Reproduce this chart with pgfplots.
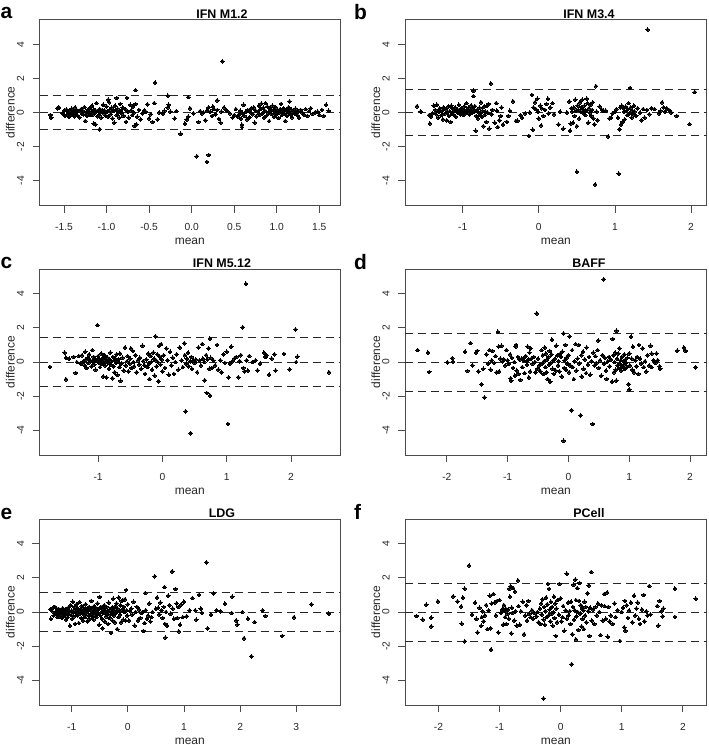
\documentclass[border=0pt]{standalone}
\usepackage{fontspec}
\setmainfont{Liberation Sans}
\usepackage{pgfplots}
\pgfplotsset{compat=1.18}
\usepackage{pgfplotstable}
\definecolor{axgray}{gray}{0.3}

\pgfplotstableread{
x y
-1.66 -0.14
-1.65 -0.31
-1.58 0.25
-1.56 0.30
-1.52 -0.05
-1.50 0.10
-1.49 -0.20
-1.47 0.18
-1.46 -0.10
-1.45 0.02
-1.44 -0.25
-1.43 0.12
-1.42 -0.08
-1.41 0.22
-1.40 -0.15
-1.39 0.05
-1.38 -0.22
-1.37 0.30
-1.36 -0.02
-1.35 0.15
-1.34 -0.18
-1.33 0.08
-1.32 -0.28
-1.30 0.20
-1.29 -0.05
-1.28 0.10
-1.27 -0.12
-1.26 0.32
-1.25 -0.50
-1.24 0.02
-1.23 -0.20
-1.22 0.15
-1.21 -0.08
-1.20 0.25
-1.19 -0.15
-1.18 0.05
-1.17 0.40
-1.16 -0.10
-1.15 0.18
-1.15 -0.65
-1.14 -0.02
-1.13 0.12
-1.13 -0.70
-1.12 0.55
-1.11 -0.22
-1.10 0.08
-1.09 -0.12
-1.08 0.20
-1.08 -0.98
-1.07 0.02
-1.06 -0.30
-1.05 0.15
-1.04 0.45
-1.03 -0.05
-1.02 0.10
-1.01 -0.18
-1.00 0.35
-0.99 0.05
-0.98 -0.25
-0.98 0.75
-0.97 0.60
-0.96 0.18
-0.95 -0.10
-0.94 0.28
-0.93 -0.35
-0.92 0.08
-0.91 -0.60
-0.90 0.40
-0.89 0.15
-0.88 0.85
-0.88 -0.15
-0.87 0.22
-0.86 0.02
-0.85 -0.30
-0.84 0.50
-0.83 0.10
-0.82 -0.05
-0.81 0.30
-0.80 -0.20
-0.78 0.20
-0.77 -0.55
-0.76 0.85
-0.75 0.05
-0.74 -0.30
-0.72 0.45
-0.71 0.12
-0.70 -0.15
-0.69 0.35
-0.68 0.00
-0.67 -0.78
-0.66 1.31
-0.66 0.50
-0.65 -0.70
-0.64 -0.25
-0.62 0.15
-0.60 -0.40
-0.58 -0.05
-0.56 0.10
-0.54 0.05
-0.52 0.48
-0.50 -0.35
-0.48 -0.10
-0.46 -0.55
-0.44 0.55
-0.43 1.75
-0.40 -0.40
-0.38 0.00
-0.34 -0.08
-0.32 0.10
-0.28 0.98
-0.28 0.30
-0.27 0.45
-0.25 0.05
-0.20 -0.35
-0.18 0.08
-0.13 -1.25
-0.08 -0.65
-0.06 -0.42
-0.04 0.90
-0.04 -0.25
-0.02 0.25
0.02 -0.05
0.06 -2.57
0.08 -0.55
0.10 0.08
0.12 -0.05
0.14 0.00
0.16 -0.45
0.18 -2.90
0.18 0.12
0.20 -2.49
0.20 0.30
0.22 0.05
0.24 -0.20
0.25 0.35
0.26 0.20
0.28 -0.10
0.30 0.71
0.30 0.15
0.32 -0.38
0.34 -0.60
0.35 0.05
0.36 3.00
0.38 0.30
0.40 0.18
0.42 0.08
0.45 -0.05
0.48 -0.30
0.50 -0.15
0.52 0.20
0.54 -0.25
0.56 -0.10
0.57 0.10
0.58 -0.35
0.59 -0.85
0.59 -0.72
0.60 -0.05
0.61 0.45
0.62 -0.20
0.64 0.05
0.65 -0.40
0.66 0.15
0.68 -0.28
0.69 0.02
0.70 0.25
0.72 -0.10
0.73 0.30
0.74 -0.60
0.75 0.12
0.76 -0.22
0.78 0.05
0.79 0.40
0.80 -0.12
0.81 0.20
0.82 0.52
0.83 -0.05
0.84 0.28
0.85 -0.30
0.86 0.10
0.87 0.55
0.88 -0.18
0.89 0.35
0.90 0.00
0.91 -0.50
0.92 0.22
0.93 0.08
0.94 -0.08
0.95 0.40
0.96 0.15
0.97 -0.25
0.98 0.05
0.99 0.30
1.00 -0.10
1.01 0.12
1.02 -0.32
1.03 0.02
1.04 0.20
1.05 0.50
1.06 -0.15
1.07 0.08
1.08 0.25
1.09 -0.05
1.10 -0.50
1.11 0.15
1.12 -0.20
1.13 0.05
1.14 0.30
1.15 0.65
1.16 -0.10
1.17 0.18
1.18 -0.28
1.20 0.10
1.21 -0.05
1.22 0.22
1.24 -0.15
1.25 0.05
1.26 -0.30
1.28 0.15
1.30 0.00
1.32 -0.12
1.34 0.20
1.36 -0.20
1.38 0.08
1.40 0.25
1.42 -0.08
1.45 0.00
1.48 0.05
1.50 -0.15
1.53 0.15
1.55 -0.20
1.58 0.45
1.61 0.10
}\dataA

\pgfplotstableread{
x y
-1.60 0.37
-1.55 0.06
-1.44 -0.15
-1.43 -0.64
-1.42 -0.25
-1.40 -0.05
-1.38 0.40
-1.36 0.15
-1.35 -0.10
-1.34 0.45
-1.32 -0.30
-1.31 0.05
-1.30 0.25
-1.28 -0.15
-1.27 0.10
-1.26 -0.40
-1.25 0.30
-1.24 -0.08
-1.22 0.18
-1.21 -0.45
-1.20 0.02
-1.19 0.35
-1.18 -0.20
-1.17 0.08
-1.16 -0.55
-1.15 0.40
-1.14 -0.05
-1.13 0.22
-1.12 -0.12
-1.11 0.10
-1.10 0.30
-1.09 -0.25
-1.08 0.05
-1.07 0.18
-1.06 -0.02
-1.05 0.45
-1.04 0.12
-1.03 -0.10
-1.02 0.25
-1.01 0.00
-1.00 0.15
-0.99 -0.15
-0.98 0.35
-0.97 0.08
-0.96 -0.05
-0.95 0.55
-0.94 0.20
-0.93 0.02
-0.92 0.30
-0.91 -0.12
-0.90 0.12
-0.89 0.42
-0.88 -0.02
-0.87 0.25
-0.86 1.27
-0.86 0.96
-0.85 0.05
-0.84 0.38
-0.83 -1.07
-0.82 -0.20
-0.81 0.15
-0.80 -0.35
-0.79 0.02
-0.78 0.28
-0.77 -0.08
-0.76 0.60
-0.75 -0.25
-0.74 0.10
-0.73 -0.80
-0.72 0.35
-0.71 -0.15
-0.70 0.05
-0.69 -0.55
-0.68 0.40
-0.67 -0.02
-0.66 0.50
-0.65 -0.95
-0.63 1.70
-0.62 -0.10
-0.61 0.15
-0.58 -0.60
-0.56 0.55
-0.55 0.10
-0.54 -0.85
-0.52 -0.45
-0.50 -0.20
-0.49 0.30
-0.47 -0.70
-0.42 -0.55
-0.40 -0.20
-0.38 0.10
-0.34 0.66
-0.30 -0.50
-0.28 -0.48
-0.24 -0.15
-0.22 -0.30
-0.18 -0.05
-0.13 -1.37
-0.12 0.00
-0.09 1.03
-0.08 -1.01
-0.07 0.30
-0.05 0.60
-0.04 0.20
-0.02 0.80
-0.01 0.05
0.00 -0.35
0.02 0.40
0.03 -0.75
0.04 0.25
0.06 -0.20
0.08 0.15
0.10 0.50
0.12 0.80
0.13 -0.05
0.15 0.30
0.18 0.55
0.20 -0.10
0.26 -0.70
0.28 0.05
0.32 -0.95
0.37 0.00
0.40 0.65
0.41 -1.07
0.42 -0.65
0.43 0.25
0.44 0.05
0.45 -0.60
0.46 0.30
0.47 -0.20
0.48 0.75
0.49 0.10
0.50 -3.47
0.50 -0.80
0.51 0.40
0.52 0.15
0.53 -0.35
0.54 0.60
0.55 0.05
0.56 0.30
0.57 0.75
0.58 0.20
0.59 -0.05
0.60 0.40
0.61 -0.15
0.62 0.10
0.63 0.80
0.64 0.55
0.65 -0.60
0.66 0.25
0.67 0.00
0.68 0.45
0.69 -0.20
0.70 0.15
0.71 0.60
0.72 -0.35
0.73 -0.70
0.74 -4.21
0.75 1.54
0.76 0.05
0.77 -0.45
0.80 0.35
0.83 0.15
0.85 0.10
0.88 0.10
0.91 -1.40
0.93 -0.35
0.95 -0.30
0.97 -0.05
1.00 0.05
1.02 0.20
1.04 -0.30
1.05 -3.59
1.06 -0.98
1.07 0.30
1.08 -0.70
1.09 0.40
1.10 -0.55
1.11 0.25
1.12 0.05
1.13 -0.40
1.14 0.35
1.15 0.10
1.16 -0.15
1.17 0.20
1.18 0.55
1.19 -0.05
1.20 1.44
1.21 0.30
1.22 -0.30
1.23 0.10
1.24 -0.10
1.25 0.40
1.26 0.05
1.28 -0.20
1.30 0.25
1.33 0.00
1.35 -0.45
1.37 0.20
1.39 -0.30
1.42 0.15
1.43 4.86
1.45 -0.10
1.48 0.25
1.52 0.20
1.58 -0.05
1.60 0.10
1.62 0.60
1.64 0.30
1.66 0.05
1.68 0.25
1.71 0.15
1.74 0.00
1.81 -0.20
1.98 -0.68
2.05 1.20
}\dataB

\pgfplotstableread{
x y
-1.75 -0.29
-1.52 0.55
-1.50 0.25
-1.50 -1.01
-1.45 0.20
-1.38 0.30
-1.35 -0.64
-1.33 0.00
-1.30 0.35
-1.27 -0.10
-1.25 0.40
-1.23 0.05
-1.21 -0.20
-1.20 0.60
-1.19 0.15
-1.18 -0.35
-1.16 0.25
-1.15 -0.05
-1.14 0.45
-1.12 0.10
-1.10 -0.25
-1.09 0.70
-1.08 0.02
-1.07 0.30
-1.06 -0.15
-1.05 0.15
-1.04 -0.45
-1.03 0.08
-1.01 2.16
-1.00 0.35
-0.99 -0.05
-0.98 0.18
-0.97 -0.30
-0.96 0.05
-0.95 0.50
-0.94 -0.10
-0.93 0.22
-0.92 -0.85
-0.91 0.00
-0.90 0.40
-0.89 -0.20
-0.88 0.12
-0.87 -0.90
-0.86 0.28
-0.85 -0.05
-0.84 0.08
-0.83 -0.40
-0.82 0.15
-0.81 0.55
-0.80 -0.15
-0.79 0.05
-0.78 -0.95
-0.77 0.30
-0.76 -0.25
-0.75 0.10
-0.74 -0.60
-0.73 0.20
-0.72 -0.05
-0.71 0.45
-0.70 -0.75
-0.69 0.02
-0.68 0.15
-0.67 -0.30
-0.66 0.50
-0.65 -1.10
-0.64 -0.10
-0.62 0.25
-0.60 -0.50
-0.58 0.85
-0.57 -0.20
-0.55 0.05
-0.54 0.35
-0.53 -0.55
-0.51 -0.10
-0.50 0.20
-0.49 0.80
-0.48 -0.35
-0.46 0.65
-0.45 0.00
-0.44 -0.25
-0.42 0.40
-0.40 -0.60
-0.38 0.10
-0.36 -0.15
-0.35 0.25
-0.33 -0.40
-0.31 0.95
-0.30 0.05
-0.28 -0.20
-0.27 -0.70
-0.25 0.15
-0.23 -0.30
-0.22 0.50
-0.21 -0.10
-0.20 -1.00
-0.18 0.35
-0.17 0.02
-0.16 -0.45
-0.14 0.55
-0.13 0.20
-0.12 -0.80
-0.11 1.50
-0.10 0.10
-0.09 -0.25
-0.08 0.45
-0.07 0.00
-0.06 -1.13
-0.05 0.95
-0.04 0.30
-0.03 -0.15
-0.02 1.05
-0.01 0.15
0.00 -0.55
0.02 0.40
0.04 -0.35
0.06 0.80
0.08 0.10
0.10 -0.75
0.12 0.60
0.14 -0.20
0.16 0.25
0.18 -0.70
0.20 0.00
0.22 0.45
0.25 -0.45
0.27 0.85
0.30 0.10
0.32 -0.30
0.34 1.10
0.35 0.40
0.36 -2.89
0.37 -0.10
0.38 0.20
0.40 0.55
0.41 -0.25
0.43 0.05
0.44 -4.17
0.45 0.30
0.46 -0.40
0.48 0.10
0.50 -0.05
0.52 0.15
0.54 -0.60
0.56 0.85
0.58 0.10
0.60 -0.20
0.62 1.05
0.63 0.20
0.65 0.00
0.66 -1.07
0.68 0.40
0.69 -1.81
0.70 0.15
0.72 0.80
0.73 -0.40
0.74 1.38
0.74 -1.96
0.75 0.25
0.77 -0.35
0.79 0.10
0.82 -0.20
0.85 1.00
0.87 -0.45
0.90 0.10
0.92 -0.60
0.95 0.45
0.97 -0.05
1.00 0.60
1.02 -3.63
1.03 -0.90
1.05 -0.10
1.07 0.90
1.09 0.05
1.12 0.20
1.15 0.30
1.18 -0.89
1.20 0.05
1.22 0.40
1.25 2.04
1.26 -0.35
1.28 -0.55
1.30 4.58
1.31 0.10
1.33 -0.50
1.35 0.35
1.40 0.00
1.45 0.10
1.48 -0.50
1.52 -0.10
1.58 0.55
1.60 0.30
1.62 0.40
1.66 -0.74
1.70 0.20
1.74 0.45
1.76 -0.50
1.89 0.47
1.98 -0.43
2.07 1.90
2.08 0.00
2.10 0.31
2.59 -0.60
}\dataC

\pgfplotstableread{
x y
-2.48 0.70
-2.31 0.56
-2.29 -0.58
-1.99 -0.02
-1.91 0.23
-1.90 0.02
-1.70 0.60
-1.66 -0.52
-1.61 1.11
-1.58 -0.20
-1.52 0.55
-1.50 0.65
-1.48 -0.55
-1.43 -1.30
-1.40 -0.40
-1.38 -2.08
-1.35 0.45
-1.32 -0.10
-1.30 0.70
-1.28 -0.45
-1.26 0.10
-1.25 0.65
-1.22 -0.05
-1.20 0.35
-1.18 -0.60
-1.16 1.77
-1.15 0.90
-1.14 -0.55
-1.12 0.20
-1.10 0.95
-1.08 0.05
-1.06 0.15
-1.04 -0.20
-1.02 0.70
-1.00 0.10
-0.98 -0.10
-0.96 0.45
-0.95 -0.95
-0.94 -1.10
-0.93 0.25
-0.91 -0.35
-0.89 0.00
-0.88 -0.80
-0.87 0.90
-0.86 1.00
-0.85 -0.50
-0.83 0.30
-0.82 -0.70
-0.80 0.15
-0.79 -1.05
-0.77 0.20
-0.76 -0.30
-0.74 0.10
-0.73 0.25
-0.72 -0.65
-0.70 0.35
-0.69 0.05
-0.68 -0.15
-0.67 0.90
-0.66 0.15
-0.65 -0.90
-0.64 0.55
-0.63 -0.55
-0.62 0.80
-0.61 0.20
-0.59 -0.10
-0.57 0.30
-0.55 0.00
-0.54 -0.60
-0.52 2.85
-0.51 -0.40
-0.50 0.20
-0.48 -0.20
-0.46 -0.55
-0.44 0.70
-0.43 -0.10
-0.42 0.40
-0.41 -0.70
-0.40 0.05
-0.39 0.85
-0.38 -0.30
-0.37 0.50
-0.36 -0.60
-0.35 0.15
-0.34 -1.00
-0.33 0.30
-0.32 -0.15
-0.31 0.65
-0.30 -1.15
-0.29 -0.05
-0.28 0.45
-0.27 1.30
-0.26 -0.40
-0.25 0.10
-0.24 -0.70
-0.22 0.20
-0.21 -0.50
-0.20 0.95
-0.18 0.40
-0.17 -0.20
-0.16 0.05
-0.15 -0.55
-0.13 0.50
-0.12 0.30
-0.11 -0.85
-0.10 0.60
-0.08 -4.62
-0.08 1.67
-0.07 -0.35
-0.06 0.10
-0.05 1.00
-0.04 -0.45
-0.03 0.25
-0.02 -0.10
0.00 0.40
0.01 -0.60
0.02 1.50
0.03 -0.20
0.05 -2.83
0.06 0.70
0.07 -0.30
0.09 -1.00
0.10 0.05
0.12 1.05
0.13 -0.50
0.15 0.20
0.17 1.00
0.18 -0.10
0.20 -3.13
0.21 0.40
0.22 -0.85
0.24 0.60
0.25 -0.40
0.27 0.15
0.29 -0.65
0.30 0.85
0.32 -0.15
0.34 0.30
0.36 -0.75
0.38 0.05
0.40 -3.63
0.41 0.55
0.43 -0.20
0.44 0.35
0.46 -0.05
0.48 0.70
0.49 1.26
0.50 -0.35
0.52 0.10
0.54 -0.80
0.56 0.40
0.58 4.85
0.59 -0.10
0.60 0.25
0.62 -0.50
0.63 -0.99
0.65 0.05
0.67 0.30
0.68 -0.25
0.70 0.15
0.72 -1.15
0.73 1.35
0.74 0.40
0.75 -0.60
0.76 0.00
0.77 0.55
0.78 -0.45
0.79 1.83
0.79 -1.09
0.80 0.20
0.81 -0.20
0.82 0.50
0.83 -0.35
0.84 0.80
0.85 -0.10
0.86 0.10
0.87 -0.50
0.88 0.30
0.89 -0.25
0.90 0.05
0.91 -0.15
0.92 0.45
0.93 -0.40
0.94 0.15
0.95 -0.05
0.96 -0.30
0.97 0.25
0.99 -1.30
1.00 -1.61
1.00 0.50
1.01 -0.20
1.03 1.48
1.04 0.20
1.05 -0.45
1.06 0.90
1.08 -0.60
1.10 0.10
1.12 -0.25
1.13 0.30
1.15 -0.70
1.16 1.00
1.18 0.20
1.20 -0.10
1.22 0.80
1.24 -0.30
1.26 0.05
1.28 -0.55
1.30 0.40
1.33 -0.20
1.35 0.95
1.37 -0.30
1.37 0.49
1.40 0.10
1.43 -0.05
1.45 0.50
1.47 0.10
1.50 -0.25
1.51 -0.40
1.79 0.66
1.90 0.85
1.93 0.65
2.09 -0.31
}\dataD

\pgfplotstableread{
x y
-1.38 0.15
-1.37 -0.40
-1.35 0.05
-1.33 0.25
-1.32 -0.20
-1.30 0.30
-1.29 0.00
-1.28 -0.10
-1.27 0.20
-1.26 -0.30
-1.25 0.10
-1.24 -0.05
-1.23 0.18
-1.22 -0.25
-1.21 0.05
-1.20 0.12
-1.19 -0.15
-1.18 0.02
-1.17 -0.35
-1.16 0.22
-1.15 -0.08
-1.14 0.08
-1.13 -0.20
-1.12 0.00
-1.11 0.15
-1.10 -0.45
-1.09 -0.05
-1.08 0.10
-1.07 -0.30
-1.06 0.25
-1.05 -0.12
-1.04 0.05
-1.03 -0.80
-1.02 0.40
-1.01 -0.18
-1.00 0.08
-0.99 -0.40
-0.98 0.60
-0.97 0.00
-0.96 -0.25
-0.95 0.30
-0.94 -0.70
-0.93 0.12
-0.92 -0.05
-0.91 0.45
-0.90 -0.20
-0.89 0.20
-0.88 0.05
-0.87 -0.65
-0.86 0.58
-0.85 -0.10
-0.84 0.15
-0.83 -0.35
-0.82 0.35
-0.81 0.00
-0.80 -0.50
-0.79 0.25
-0.78 -0.15
-0.77 0.10
-0.76 -0.30
-0.75 0.45
-0.74 -0.05
-0.73 0.18
-0.72 -0.55
-0.71 0.05
-0.70 -0.20
-0.69 0.30
-0.68 -0.40
-0.67 0.10
-0.66 -0.10
-0.65 0.65
-0.64 0.20
-0.63 -0.25
-0.62 0.00
-0.61 -0.45
-0.60 0.35
-0.59 0.10
-0.58 -0.15
-0.57 0.25
-0.56 -0.30
-0.55 0.05
-0.54 0.50
-0.53 -0.10
-0.52 0.15
-0.51 -0.75
-0.50 0.88
-0.49 -0.20
-0.48 0.30
-0.47 0.00
-0.46 -0.40
-0.45 -0.95
-0.44 0.20
-0.43 -0.05
-0.42 0.40
-0.41 -0.55
-0.40 0.10
-0.39 -0.25
-0.38 0.30
-0.37 -0.10
-0.36 0.05
-0.35 -0.70
-0.34 0.55
-0.33 -0.35
-0.32 0.15
-0.31 -0.15
-0.30 -1.23
-0.29 0.00
-0.28 0.25
-0.27 -0.50
-0.26 0.78
-0.25 -0.20
-0.24 0.10
-0.23 -0.60
-0.22 0.35
-0.21 -0.05
-0.20 0.50
-0.19 -1.00
-0.18 0.20
-0.17 -0.30
-0.16 0.85
-0.15 0.05
-0.14 -0.15
-0.13 0.40
-0.12 -0.60
-0.11 0.65
-0.10 0.15
-0.09 0.70
-0.08 -0.45
-0.07 0.30
-0.06 0.00
-0.05 0.75
-0.04 -0.50
-0.03 1.29
-0.02 0.10
-0.01 -0.20
0.00 0.45
0.02 -0.50
0.04 0.05
0.06 0.20
0.08 -0.15
0.10 0.60
0.12 -0.80
0.14 0.00
0.16 0.30
0.18 -0.50
0.20 0.15
0.22 -0.35
0.24 -0.05
0.26 0.00
0.28 -1.11
0.30 -0.65
0.31 1.11
0.32 0.10
0.34 -0.40
0.36 -0.20
0.38 0.50
0.40 -0.55
0.42 -0.30
0.44 0.00
0.48 2.09
0.50 0.20
0.52 0.85
0.54 0.25
0.56 -0.15
0.58 0.55
0.60 0.10
0.62 -0.35
0.64 0.30
0.65 1.46
0.66 -0.70
0.67 -1.50
0.68 0.00
0.70 -0.80
0.72 0.95
0.74 0.40
0.76 -0.10
0.79 2.38
0.80 0.20
0.82 -0.40
0.85 1.35
0.87 0.50
0.88 -0.35
0.90 0.30
0.91 -1.13
0.93 -0.75
0.95 0.45
0.98 -0.30
1.00 0.60
1.05 -0.25
1.10 0.10
1.15 0.82
1.20 0.10
1.22 -0.45
1.27 1.00
1.30 0.20
1.32 -0.05
1.40 2.91
1.42 -0.96
1.48 -0.16
1.53 1.09
1.58 0.10
1.65 0.05
1.73 0.49
1.85 -0.06
1.86 0.90
1.93 -0.49
1.95 -0.74
2.04 0.00
2.07 -1.54
2.14 -0.39
2.20 -2.60
2.26 -0.59
2.40 0.10
2.45 -0.23
2.75 -1.40
2.96 -0.31
3.27 0.45
3.58 -0.10
}\dataE

\pgfplotstableread{
x y
-2.36 -0.23
-2.26 -0.45
-2.20 0.43
-2.12 -0.33
-2.12 -0.84
-2.01 0.62
-1.76 0.92
-1.69 0.62
-1.63 0.33
-1.62 -0.68
-1.60 0.84
-1.57 1.37
-1.57 -1.72
-1.50 2.73
-1.45 -0.15
-1.40 0.55
-1.38 -0.40
-1.36 -1.20
-1.33 0.25
-1.30 -0.80
-1.29 -0.30
-1.28 0.05
-1.26 -0.55
-1.24 -0.20
-1.22 0.40
-1.20 -1.00
-1.18 0.10
-1.16 0.95
-1.15 -0.95
-1.14 -2.20
-1.13 0.50
-1.10 1.05
-1.08 0.55
-1.06 -0.20
-1.04 0.65
-1.02 -1.20
-1.00 0.70
-0.98 -0.05
-0.96 0.15
-0.94 -0.75
-0.93 0.40
-0.92 0.10
-0.91 -0.30
-0.90 0.20
-0.89 -0.70
-0.88 0.05
-0.87 -0.10
-0.86 0.15
-0.85 -0.40
-0.84 1.35
-0.83 0.90
-0.82 1.50
-0.81 -1.25
-0.80 0.25
-0.79 -0.05
-0.78 1.40
-0.76 -0.50
-0.75 1.20
-0.74 0.05
-0.72 -0.80
-0.70 1.85
-0.69 0.35
-0.67 -0.75
-0.65 0.05
-0.62 0.60
-0.60 -1.30
-0.58 -0.20
-0.56 0.40
-0.55 -0.50
-0.53 0.65
-0.51 -0.10
-0.49 -0.30
-0.47 0.10
-0.45 -0.40
-0.43 -0.05
-0.40 -0.25
-0.38 0.00
-0.36 -0.60
-0.34 0.20
-0.33 -0.70
-0.32 0.50
-0.31 -0.15
-0.30 0.75
-0.28 -5.07
-0.28 -0.45
-0.27 0.30
-0.26 -0.75
-0.25 0.05
-0.24 0.85
-0.23 -0.30
-0.22 0.45
-0.21 1.65
-0.20 -0.20
-0.19 1.35
-0.18 0.15
-0.17 -0.55
-0.16 0.60
-0.15 -0.10
-0.14 0.30
-0.13 -0.80
-0.12 0.00
-0.11 0.90
-0.10 -0.35
-0.09 0.50
-0.08 -1.40
-0.07 0.20
-0.06 -0.60
-0.05 0.70
-0.03 -0.15
-0.02 1.65
0.00 0.80
0.01 -0.55
0.03 -0.30
0.04 0.35
0.06 -1.10
0.08 0.10
0.10 2.24
0.10 -0.40
0.12 0.55
0.13 -0.20
0.15 0.05
0.16 -0.70
0.17 0.60
0.18 -3.06
0.19 -1.30
0.20 0.30
0.21 1.60
0.22 -0.45
0.23 0.10
0.24 1.90
0.25 -1.60
0.25 0.70
0.26 -0.25
0.27 1.40
0.28 0.00
0.29 -1.05
0.30 0.65
0.31 1.70
0.32 -0.10
0.33 0.40
0.34 -0.85
0.35 0.20
0.36 -0.40
0.37 0.10
0.38 -1.00
0.39 0.60
0.40 -0.20
0.41 0.30
0.42 -0.60
0.44 1.10
0.45 0.05
0.46 1.55
0.47 -1.40
0.48 0.25
0.50 2.34
0.51 -0.50
0.53 0.15
0.55 -0.70
0.57 0.30
0.59 -0.20
0.61 0.50
0.63 0.00
0.65 -1.35
0.67 0.40
0.69 -0.50
0.71 1.05
0.72 0.35
0.74 -0.40
0.76 1.15
0.77 -1.45
0.78 0.30
0.80 -0.55
0.82 -0.20
0.85 -0.70
0.88 0.50
0.90 -0.30
0.93 0.10
0.97 -1.70
1.00 0.00
1.02 0.25
1.04 -0.90
1.05 0.65
1.06 -1.10
1.08 0.40
1.10 -0.35
1.12 0.10
1.15 0.55
1.17 -0.60
1.20 0.95
1.22 -0.20
1.24 0.20
1.26 0.55
1.28 -0.40
1.30 -0.70
1.33 0.15
1.36 1.00
1.37 -0.55
1.40 0.05
1.42 -0.20
1.45 1.52
1.47 -0.15
1.58 0.35
1.60 -0.80
1.62 0.65
1.65 0.05
1.67 -0.25
1.68 0.20
1.87 1.37
1.87 -0.29
2.21 0.78
}\dataF

\pgfplotsset{
  ba/.style={
    scale only axis, anchor=north west,
    height=186bp,
    ymin=-5.45, ymax=5.45,
    ytick={-4,-2,0,2,4}, yticklabels={-4,-2,0,2,4},
    tick align=outside, major tick length=7bp,
    xtick pos=left, ytick pos=left,
    axis line style={axgray, line width=0.8bp},
    tick style={axgray, line width=0.8bp},
    tick label style={font=\fontsize{10.3}{12}\selectfont, text=black!85, inner sep=0pt},
    xticklabel style={anchor=base, yshift=-18bp},
    yticklabel style={xshift=-8.3bp, rotate=90, anchor=south},
  },
  pts/.style={only marks, mark=*, mark size=1.85bp, black, mark options={draw=black, fill=black, line width=0pt}},
  loa/.style={black!85, line width=0.9bp, dash pattern=on 8bp off 5bp},
}

\newcommand{\lbls}[3]{% left x, top y, width
  \node[rotate=90, anchor=base, font=\fontsize{12}{14}\selectfont, text=black!85] at (#1bp-25bp, -#2bp-93bp) {difference};
  \node[anchor=base, font=\fontsize{12}{14}\selectfont, text=black!85] at (#1bp+#3bp/2, -#2bp-225bp) {mean};
}

\begin{document}
\begin{tikzpicture}
\path[use as bounding box] (0,0) rectangle (709bp,-745bp);

% a
\begin{axis}[ba, at={(39.5bp,-19.5bp)}, width=300.5bp, xmin=-1.788, xmax=1.743,
  xtick={-1.5,-1,-0.5,0,0.5,1,1.5}, xticklabels={-1.5,-1.0,-0.5,0.0,0.5,1.0,1.5}]
  \addplot[loa] coordinates {(-1.788,1.0) (1.743,1.0)};
  \addplot[loa] coordinates {(-1.788,0) (1.743,0)};
  \addplot[loa] coordinates {(-1.788,-1.0) (1.743,-1.0)};
  \addplot[pts] table {\dataA};
\end{axis}
% b
\begin{axis}[ba, at={(405bp,-19.5bp)}, width=301.7bp, xmin=-1.758, xmax=2.206,
  xtick={-1,0,1,2}, xticklabels={-1,0,1,2}]
  \addplot[loa] coordinates {(-1.758,1.37) (2.206,1.37)};
  \addplot[loa] coordinates {(-1.758,0) (2.206,0)};
  \addplot[loa] coordinates {(-1.758,-1.37) (2.206,-1.37)};
  \addplot[pts] table {\dataB};
\end{axis}
% c
\begin{axis}[ba, at={(39.5bp,-269bp)}, width=300.5bp, xmin=-1.911, xmax=2.762,
  xtick={-1,0,1,2}, xticklabels={-1,0,1,2}]
  \addplot[loa] coordinates {(-1.911,1.44) (2.762,1.44)};
  \addplot[loa] coordinates {(-1.911,0) (2.762,0)};
  \addplot[loa] coordinates {(-1.911,-1.44) (2.762,-1.44)};
  \addplot[pts] table {\dataC};
\end{axis}
% d
\begin{axis}[ba, at={(405bp,-269bp)}, width=301.7bp, xmin=-2.688, xmax=2.275,
  xtick={-2,-1,0,1,2}, xticklabels={-2,-1,0,1,2}]
  \addplot[loa] coordinates {(-2.688,1.70) (2.275,1.70)};
  \addplot[loa] coordinates {(-2.688,0) (2.275,0)};
  \addplot[loa] coordinates {(-2.688,-1.70) (2.275,-1.70)};
  \addplot[pts] table {\dataD};
\end{axis}
% e
\begin{axis}[ba, at={(39.5bp,-519bp)}, width=300.5bp, xmin=-1.573, xmax=3.779,
  xtick={-1,0,1,2,3}, xticklabels={-1,0,1,2,3}]
  \addplot[loa] coordinates {(-1.573,1.13) (3.779,1.13)};
  \addplot[loa] coordinates {(-1.573,0) (3.779,0)};
  \addplot[loa] coordinates {(-1.573,-1.13) (3.779,-1.13)};
  \addplot[pts] table {\dataE};
\end{axis}
% f
\begin{axis}[ba, at={(405bp,-519bp)}, width=301.7bp, xmin=-2.548, xmax=2.390,
  xtick={-2,-1,0,1,2}, xticklabels={-2,-1,0,1,2}]
  \addplot[loa] coordinates {(-2.548,1.70) (2.390,1.70)};
  \addplot[loa] coordinates {(-2.548,0) (2.390,0)};
  \addplot[loa] coordinates {(-2.548,-1.70) (2.390,-1.70)};
  \addplot[pts] table {\dataF};
\end{axis}

\lbls{39.5}{19.5}{300.5}
\lbls{405}{19.5}{301.7}
\lbls{39.5}{269}{300.5}
\lbls{405}{269}{301.7}
\lbls{39.5}{519}{300.5}
\lbls{405}{519}{301.7}

\tikzset{ttl/.style={anchor=base, font=\bfseries\fontsize{12.5}{14}\selectfont},
         lett/.style={anchor=base west, inner sep=0pt, font=\bfseries\fontsize{21}{24}\selectfont}}
\node[ttl] at (222bp,-18.3bp) {IFN M1.2};
\node[ttl] at (589bp,-18.3bp) {IFN M3.4};
\node[ttl] at (222bp,-267.8bp) {IFN M5.12};
\node[ttl] at (589bp,-267.8bp) {BAFF};
\node[ttl] at (222bp,-517.8bp) {LDG};
\node[ttl] at (589bp,-517.8bp) {PCell};

\node[lett] at (0.5bp,-18.3bp) {a};
\node[lett] at (354bp,-19.3bp) {b};
\node[lett] at (0.5bp,-268bp) {c};
\node[lett] at (354bp,-269.5bp) {d};
\node[lett] at (0.5bp,-519bp) {e};
\node[lett] at (354bp,-519.5bp) {f};
\end{tikzpicture}
\end{document}
